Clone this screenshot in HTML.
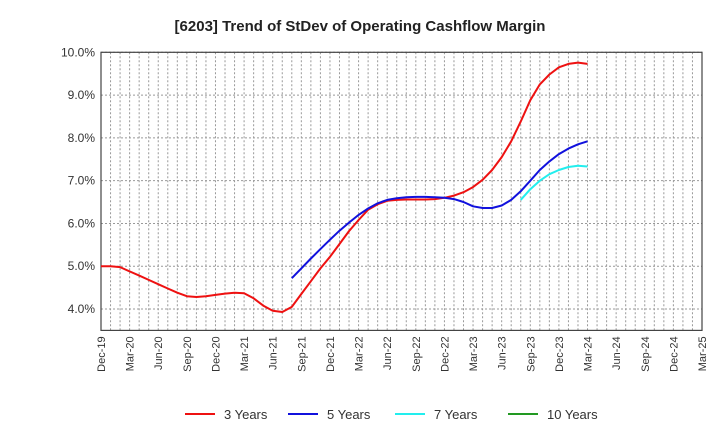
<!DOCTYPE html>
<html><head><meta charset="utf-8"><style>body{margin:0;background:#fff}svg{font-family:"Liberation Sans",Arial,sans-serif}</style></head>
<body>
<svg id="c" width="720" height="440" xmlns="http://www.w3.org/2000/svg">
<text x="360" y="31" text-anchor="middle" font-size="15" font-weight="bold" fill="#222">[6203]  Trend of StDev of Operating Cashflow Margin</text>
<g id="grid"></g><g id="axes"></g><g id="series"></g><g id="legend"></g>
</svg>
<script>
const xLabels=["Dec-19","Mar-20","Jun-20","Sep-20","Dec-20","Mar-21","Jun-21","Sep-21","Dec-21","Mar-22","Jun-22","Sep-22","Dec-22","Mar-23","Jun-23","Sep-23","Dec-23","Mar-24","Jun-24","Sep-24","Dec-24","Mar-25"];
const yTicks=[4,5,6,7,8,9,10];
const red=[5.00,5.00,4.98,4.88,4.78,4.68,4.58,4.48,4.38,4.30,4.28,4.30,4.33,4.36,4.38,4.37,4.25,4.08,3.96,3.93,4.05,4.35,4.65,4.95,5.22,5.52,5.82,6.08,6.32,6.45,6.53,6.55,6.56,6.56,6.56,6.57,6.60,6.65,6.73,6.85,7.02,7.25,7.55,7.92,8.38,8.88,9.25,9.48,9.65,9.73,9.76,9.73];
const blue=[4.72,4.95,5.18,5.40,5.62,5.83,6.02,6.20,6.35,6.47,6.55,6.59,6.61,6.62,6.62,6.61,6.60,6.57,6.50,6.40,6.36,6.36,6.42,6.55,6.75,7.00,7.25,7.45,7.62,7.75,7.85,7.92];
const blueStart=20;
const cyan=[6.55,6.80,7.00,7.15,7.25,7.32,7.35,7.33];
const cyanStart=44;
const green=[];
const L=101,R=702,T=52.3,B=330.4,yMin=3.5,yMax=10;
const NS="http://www.w3.org/2000/svg";
const xs=i=>L+(R-L)*i/63, ys=v=>B-(v-yMin)/(yMax-yMin)*(B-T);
function mk(p,t,a){const e=document.createElementNS(NS,t);for(const k in a)e.setAttribute(k,a[k]);document.getElementById(p).appendChild(e);return e;}
for(let i=1;i<63;i++){const e=mk('grid','line',{x1:xs(i),x2:xs(i),y1:T,y2:B,stroke:'#999','stroke-dasharray':'2,2','stroke-width':1});

}
yTicks.forEach(v=>{const e=mk('grid','line',{x1:L,x2:R,y1:ys(v),y2:ys(v),stroke:'#999','stroke-dasharray':'2,2','stroke-width':1});


const t=mk('axes','text',{x:L-6,y:ys(v)+4,'text-anchor':'end','font-size':12,fill:'#333'});t.textContent=v.toFixed(1)+'%';

});
const f=mk('axes','rect',{x:L,y:T,width:R-L,height:B-T,fill:'none',stroke:'#444','stroke-width':1.2});


xLabels.forEach((s,i)=>{const x=xs(i*3);const t=mk('axes','text',{x:0,y:0,'text-anchor':'end','font-size':11,fill:'#333',transform:`translate(${x+4},${B+6}) rotate(-90)`});t.textContent=s;

});
function line(arr,start,col,name){if(!arr.length)return;const d=arr.map((v,i)=>(i?'L':'M')+xs(start+i).toFixed(1)+','+ys(v).toFixed(1)).join('');
const p=mk('series','path',{d:d,fill:'none',stroke:col,'stroke-width':2,'stroke-linejoin':'round'});

}
line(red,0,'#ee1111','series-3-years');
line(blue,blueStart,'#1111dd','series-5-years');
line(cyan,cyanStart,'#22eeee','series-7-years');
line(green,0,'#229922','series-10-years');
[['3 Years','#ee1111',185],['5 Years','#1111dd',288],['7 Years','#22eeee',395],['10 Years','#229922',508]].forEach(([n,c,x])=>{
const l=mk('legend','line',{x1:x,x2:x+30,y1:414,y2:414,stroke:c,'stroke-width':2});


const t=mk('legend','text',{x:x+39,y:419,'font-size':13,fill:'#333'});t.textContent=n;

});
</script>
</body></html>
